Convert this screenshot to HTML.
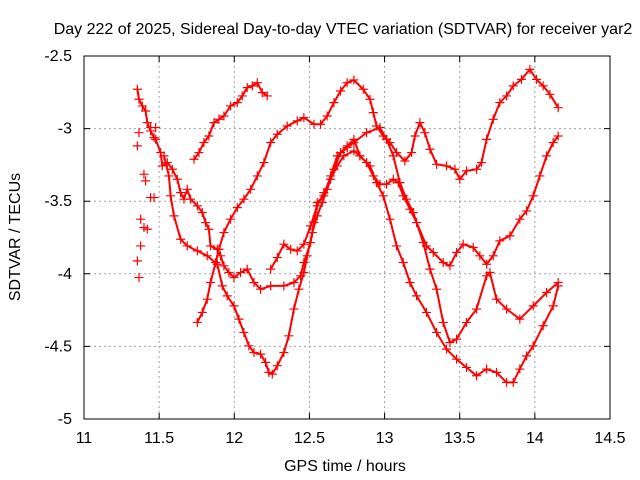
<!DOCTYPE html>
<html><head><meta charset="utf-8"><style>
body{margin:0;background:#fff}
svg{display:block;font-family:"Liberation Sans",sans-serif}
</style></head><body>
<svg id="chart" width="640" height="480" viewBox="0 0 640 480">
<rect width="640" height="480" fill="#fff"/>
<text x="343" y="34" font-size="16" text-anchor="middle">Day 222 of 2025, Sidereal Day-to-day VTEC variation (SDTVAR) for receiver yar2</text>
<text transform="translate(20,237) rotate(-90)" font-size="16" text-anchor="middle">SDTVAR / TECUs</text>
<text x="345" y="471" font-size="16" text-anchor="middle">GPS time / hours</text>
<g id="grid"></g>
<g id="ticks"></g>
<g id="series"></g>
<rect x="84" y="56" width="526" height="363" fill="none" stroke="#000" stroke-width="1"/>
</svg>
<script>
const xTicks=[11,11.5,12,12.5,13,13.5,14,14.5];
const xTickLabels=["11","11.5","12","12.5","13","13.5","14","14.5"];
const yTicks=[-2.5,-3,-3.5,-4,-4.5,-5];
const yTickLabels=["-2.5","-3","-3.5","-4","-4.5","-5"];
const s1Time=[11.355,11.366,11.388,11.410,11.421,11.443,11.466,11.477,11.510,11.521,11.554,11.588,11.621,11.643,11.665,11.687,11.709,11.754,11.787,11.809,11.831,11.842,11.887,11.909,11.931,11.964,11.998,12.042,12.086,12.131,12.175,12.242,12.330,12.397,12.441,12.463,12.508,12.530,12.552,12.596,12.641,12.685,12.751,12.796,12.880,12.969,13.013,13.058,13.102,13.146,13.191,13.257,13.302,13.346,13.390,13.435,13.479,13.545,13.612,13.679,13.701,13.745,13.812,13.900,13.989,14.078,14.155];
const s1Val=[-2.729,-2.798,-2.844,-2.879,-2.959,-3.016,-3.062,-3.074,-3.165,-3.257,-3.234,-3.280,-3.349,-3.441,-3.486,-3.418,-3.486,-3.532,-3.578,-3.647,-3.693,-3.808,-3.831,-3.876,-3.945,-3.991,-4.026,-3.991,-3.968,-4.060,-4.106,-4.083,-4.083,-4.060,-4.014,-3.922,-3.785,-3.647,-3.509,-3.463,-3.326,-3.188,-3.131,-3.096,-3.028,-2.993,-3.074,-3.188,-3.372,-3.486,-3.578,-3.785,-3.968,-4.106,-4.335,-4.473,-4.450,-4.335,-4.243,-4.014,-3.991,-4.175,-4.243,-4.312,-4.221,-4.129,-4.060];
const s2Time=[11.532,11.565,11.576,11.599,11.643,11.687,11.754,11.820,11.887,11.920,11.953,11.998,12.031,12.064,12.097,12.131,12.175,12.208,12.230,12.253,12.286,12.330,12.363,12.397,12.430,12.463,12.485,12.519,12.552,12.585,12.618,12.663,12.707,12.751,12.796,12.836,12.903,12.947,12.991,13.036,13.080,13.124,13.169,13.213,13.279,13.346,13.412,13.479,13.545,13.612,13.679,13.745,13.812,13.856,13.900,13.945,13.989,14.055,14.122,14.155];
const s2Val=[-3.188,-3.326,-3.463,-3.601,-3.762,-3.808,-3.842,-3.876,-3.934,-4.083,-4.152,-4.221,-4.312,-4.404,-4.496,-4.542,-4.553,-4.610,-4.679,-4.691,-4.633,-4.542,-4.427,-4.243,-4.106,-3.991,-3.876,-3.716,-3.601,-3.509,-3.418,-3.280,-3.165,-3.119,-3.074,-3.188,-3.257,-3.372,-3.463,-3.624,-3.808,-3.922,-4.060,-4.152,-4.266,-4.404,-4.519,-4.588,-4.645,-4.702,-4.656,-4.679,-4.748,-4.748,-4.656,-4.565,-4.496,-4.358,-4.221,-4.083];
const s3Time=[11.754,11.787,11.820,11.842,11.876,11.898,11.931,11.975,12.020,12.064,12.109,12.153,12.197,12.242,12.286,12.352,12.419,12.463,12.530,12.574,12.618,12.663,12.707,12.751,12.796,12.858,12.903,12.925,12.947,12.991,13.036,13.080,13.135,13.180,13.202,13.235,13.268,13.302,13.346,13.412,13.468,13.501,13.545,13.612,13.645,13.679,13.723,13.767,13.812,13.856,13.911,13.967,14.011,14.055,14.100,14.155];
const s3Val=[-4.335,-4.266,-4.175,-4.060,-3.922,-3.831,-3.716,-3.624,-3.544,-3.486,-3.418,-3.326,-3.234,-3.096,-3.039,-2.982,-2.947,-2.924,-2.970,-2.970,-2.913,-2.821,-2.741,-2.684,-2.665,-2.729,-2.798,-2.890,-2.982,-3.051,-3.096,-3.165,-3.223,-3.165,-3.051,-2.959,-3.028,-3.142,-3.246,-3.257,-3.280,-3.349,-3.291,-3.280,-3.234,-3.074,-2.936,-2.821,-2.775,-2.706,-2.661,-2.592,-2.661,-2.706,-2.764,-2.856];
const s4Time=[11.732,11.765,11.798,11.831,11.865,11.898,11.931,11.975,12.020,12.053,12.086,12.120,12.153,12.186,12.219];
const s4Val=[-3.211,-3.165,-3.096,-3.051,-2.959,-2.936,-2.913,-2.844,-2.821,-2.775,-2.718,-2.706,-2.684,-2.752,-2.775];
const s5Time=[12.242,12.286,12.330,12.375,12.419,12.463,12.508,12.552,12.596,12.641,12.685,12.729,12.796,12.836,12.880,12.925,12.969,13.013,13.058,13.091,13.124,13.169,13.213,13.279,13.324,13.390,13.435,13.479,13.523,13.590,13.634,13.679,13.723,13.767,13.834,13.900,13.945,13.989,14.033,14.078,14.122,14.155];
const s5Val=[-3.968,-3.888,-3.796,-3.831,-3.842,-3.796,-3.670,-3.532,-3.441,-3.349,-3.257,-3.188,-3.154,-3.188,-3.234,-3.326,-3.383,-3.383,-3.349,-3.372,-3.463,-3.555,-3.647,-3.808,-3.853,-3.922,-3.945,-3.853,-3.796,-3.819,-3.876,-3.934,-3.876,-3.773,-3.739,-3.624,-3.567,-3.463,-3.326,-3.188,-3.096,-3.051];
const s6Time=[11.377,11.399,11.421,11.377,11.355,11.366,11.399,11.410,11.443,11.466,11.355,11.366,11.443,11.477];
const s6Val=[-3.624,-3.681,-3.693,-3.808,-3.911,-4.026,-3.314,-3.360,-3.475,-3.475,-3.119,-3.028,-2.993,-2.993];

const NS="http://www.w3.org/2000/svg";
const X0=84,X1=610,Y0=419,Y1=56;
function xs(h){return X0+(h-11)/(14.5-11)*(X1-X0);}
function ys(v){return Y0-(v-(-5))/(2.5)*(Y0-Y1);}
function mk(tag,attrs,parent){const e=document.createElementNS(NS,tag);for(const k in attrs)e.setAttribute(k,attrs[k]);parent.appendChild(e);return e;}
const grid=document.getElementById('grid'),ticks=document.getElementById('ticks'),series=document.getElementById('series');
xTicks.forEach((t,i)=>{
  const x=xs(t);
  if(i>0&&i<xTicks.length-1){const g=mk('line',{x1:x,x2:x,y1:Y1,y2:Y0,stroke:'#a0a0a0','stroke-dasharray':'2,3'},grid);
  
  }
  const tk=mk('path',{d:`M${x},${Y0}v-6M${x},${Y1}v6`,stroke:'#000'},ticks);
  
  
  const lb=mk('text',{x:x,y:443,'font-size':16,'text-anchor':'middle'},ticks);lb.textContent=xTickLabels[i];
  
  
});
yTicks.forEach((t,i)=>{
  const y=ys(t);
  if(i>0&&i<yTicks.length-1){const g=mk('line',{x1:X0,x2:X1,y1:y,y2:y,stroke:'#a0a0a0','stroke-dasharray':'2,3'},grid);
  
  }
  const tk=mk('path',{d:`M${X0},${y}h6M${X1},${y}h-6`,stroke:'#000'},ticks);
  
  
  const lb=mk('text',{x:72,y:y+5,'font-size':16,'text-anchor':'end'},ticks);lb.textContent=yTickLabels[i];
  
  
});
const all=[[s1Time,s1Val,true],[s2Time,s2Val,true],[s3Time,s3Val,true],[s4Time,s4Val,true],[s5Time,s5Val,true],[s6Time,s6Val,false]];
all.forEach(([T,V,join],si)=>{
  const g=mk('g',{},series);
  
  
  if(join){const pts=T.map((t,i)=>xs(t).toFixed(1)+','+ys(V[i]).toFixed(1)).join(' ');
    const pl=mk('polyline',{points:pts,fill:'none',stroke:'#ff0000','stroke-width':2,'stroke-linejoin':'round'},g);
    
    }
  T.forEach((t,i)=>{const x=xs(t),y=ys(V[i]);
    const p=mk('path',{d:`M${x-4.5},${y}h9M${x},${y-4.5}v9`,stroke:'#ff0000','stroke-width':1.2},g);
    
    
  });
});
</script>
</body></html>
